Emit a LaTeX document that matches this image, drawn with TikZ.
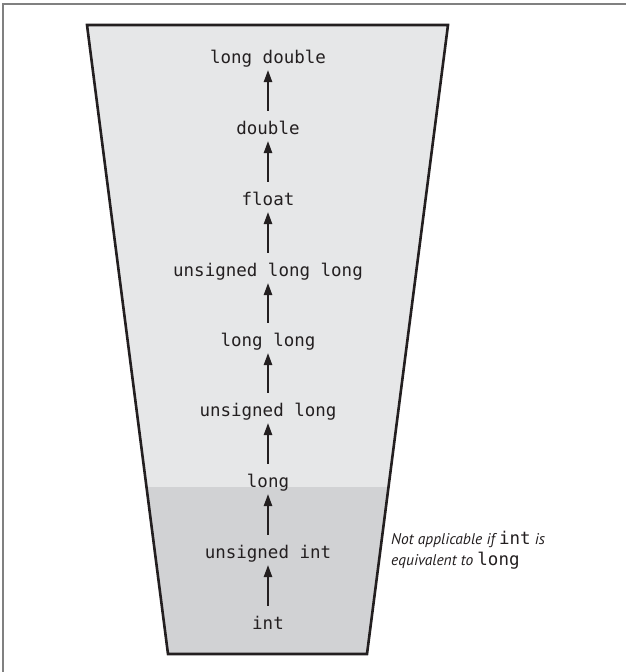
\documentclass[tikz,border=0pt]{standalone}
\usepackage{fontspec}
\setmonofont{DejaVu Sans Mono}
\newfontfamily\notefont{PT Sans}
\usetikzlibrary{arrows.meta}
\definecolor{lightfill}{HTML}{E6E7E8}
\definecolor{darkfill}{HTML}{D1D2D4}
\definecolor{framegray}{HTML}{808080}
\definecolor{inkblack}{HTML}{231F20}
\tikzset{
  typ/.style={font=\fontsize{17.5}{20}\ttfamily, text=inkblack, inner sep=0pt,
    minimum height=30pt, text height=17pt, text depth=1pt},
  up/.style={-{Triangle[width=8.5pt,length=12pt]}, line width=1.3pt, draw=inkblack},
  note/.style={font=\fontsize{15.5}{21}\notefont\itshape, text=inkblack, align=left, inner sep=0pt, anchor=north west}
}
\begin{document}
\begin{tikzpicture}[x=1pt,y=-1pt]
\useasboundingbox (0,0) rectangle (626,672);
\fill[white] (0,0) rectangle (626,672);
\begin{scope}
\clip (0,0) rectangle (626,672);
\draw[framegray, line width=2pt] (3,4) rectangle (660,700);
\end{scope}
% funnel
\fill[lightfill] (87,25) -- (448,25) -- (388.5,487) -- (146.5,487) -- cycle;
\fill[darkfill] (146.5,487) -- (388.5,487) -- (367,654) -- (168,654) -- cycle;
\draw[inkblack, line width=2.6pt, line join=miter] (87,25) -- (448,25) -- (367,654) -- (168,654) -- cycle;
% labels
\node[typ] (ld)  at (268,55)  {long double};
\node[typ] (d)   at (268,126) {double};
\node[typ] (f)   at (268,197) {float};
\node[typ] (ull) at (268,268) {unsigned long long};
\node[typ] (ll)  at (268,338) {long long};
\node[typ] (ul)  at (268,408) {unsigned long};
\node[typ] (l)   at (268,479) {long};
\node[typ] (ui)  at (268,550) {unsigned int};
\node[typ] (i)   at (268,621) {int};
\foreach \a/\b in {d/ld, f/d, ull/f, ll/ull, ul/ll, l/ul, ui/l, i/ui}
  \draw[up] (\a.north) -- (\b.south);
\node[note] (n) at (391,531) {Not applicable if {\upshape\fontsize{17.5}{21}\ttfamily int} is\\equivalent to {\upshape\fontsize{17.5}{21}\ttfamily long}};
\end{tikzpicture}
\end{document}
